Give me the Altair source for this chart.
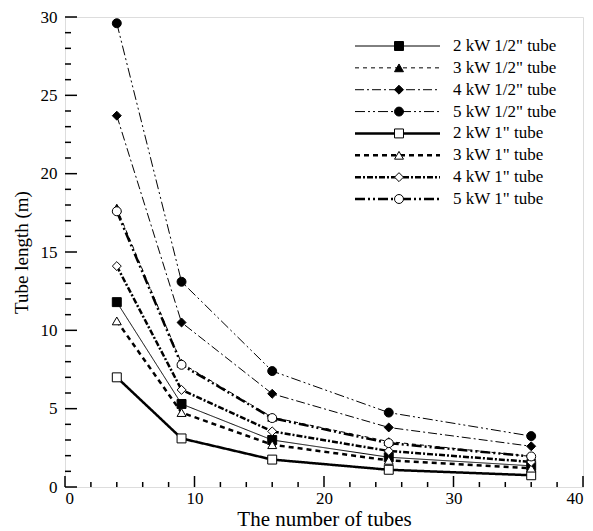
import altair as alt
import pandas as pd

n_tubes = [4, 9, 16, 25, 36]
series = ['2 kW 1/2" tube', '3 kW 1/2" tube', '4 kW 1/2" tube', '5 kW 1/2" tube',
          '2 kW 1" tube', '3 kW 1" tube', '4 kW 1" tube', '5 kW 1" tube']
thin_series = series[:4]
thick_series = series[4:]
kw2_half = [11.8, 5.3, 3.0, 1.9, 1.35]
kw3_half = [17.8, 7.9, 4.45, 2.9, 1.95]
kw4_half = [23.7, 10.5, 5.95, 3.8, 2.6]
kw5_half = [29.6, 13.1, 7.4, 4.75, 3.25]
kw2_one = [7.0, 3.1, 1.75, 1.1, 0.75]
kw3_one = [10.6, 4.75, 2.7, 1.7, 1.2]
kw4_one = [14.1, 6.2, 3.55, 2.3, 1.6]
kw5_one = [17.6, 7.8, 4.4, 2.8, 1.95]
all_vals = [kw2_half, kw3_half, kw4_half, kw5_half, kw2_one, kw3_one, kw4_one, kw5_one]

y_major = [0, 5, 10, 15, 20, 25, 30]
y_minor = [v for v in range(0, 31) if v % 5 != 0]
x_major = [0, 10, 20, 30, 40]
x_minor = [v for v in range(0, 41, 2) if v % 10 != 0]

dashes = [[1, 0], [4, 4], [9, 3, 2, 3], [10, 3, 2, 3, 2, 3],
          [1, 0], [5, 4], [6, 2, 2, 2], [10, 3, 2, 3, 2, 3]]
shapes = ['square', 'triangle-up', 'diamond', 'circle'] * 2
fills = ['black'] * 4 + ['white'] * 4
sizes = [80, 80, 90, 115, 85, 80, 95, 105]

rows = []
for s, vals in zip(series, all_vals):
    for x, y in zip(n_tubes, vals):
        rows.append({'series': s, 'n': x, 'L': y})
df = pd.DataFrame(rows)
leg = pd.DataFrame({'series': series})

FONT = 'Liberation Serif'
W, H = 518, 470

xs = alt.Scale(domain=[0, 40], nice=False, zero=False)
ys = alt.Scale(domain=[0, 30], nice=False, zero=False)

dash_enc = alt.StrokeDash('series:N', scale=alt.Scale(domain=series, range=dashes), legend=None)
shape_enc = alt.Shape('series:N', scale=alt.Scale(domain=series, range=shapes), legend=None)
fill_enc = alt.Fill('series:N', scale=alt.Scale(domain=series, range=fills), legend=None)
size_enc = alt.Size('series:N', scale=alt.Scale(domain=series, range=sizes), legend=None)

x_axis = alt.Axis(title='The number of tubes', values=x_major, ticks=False, domain=False,
                  grid=False, labelPadding=3, labelFontSize=17, titleFontSize=21,
                  titleFontWeight='normal', titlePadding=2, labelFont=FONT, titleFont=FONT,
                  labelColor='black', titleColor='black', format='d')
y_axis = alt.Axis(title='Tube length (m)', values=y_major, ticks=False, domain=False,
                  grid=False, labelPadding=8, labelFontSize=17, titleFontSize=19,
                  titleFontWeight='normal', titlePadding=9, labelFont=FONT, titleFont=FONT,
                  labelColor='black', titleColor='black', format='d')

def line_layer(subset, width, axes):
    return alt.Chart(df).transform_filter(
        alt.FieldOneOfPredicate(field='series', oneOf=subset)
    ).mark_line(color='black', strokeWidth=width).encode(
        x=alt.X('n:Q', scale=xs, axis=x_axis if axes else None),
        y=alt.Y('L:Q', scale=ys, axis=y_axis if axes else None),
        detail='series:N',
        strokeDash=dash_enc,
    )

points = alt.Chart(df).mark_point(filled=True, stroke='black', strokeWidth=1, opacity=1).encode(
    x=alt.X('n:Q', scale=xs, axis=None),
    y=alt.Y('L:Q', scale=ys, axis=None),
    shape=shape_enc,
    fill=fill_enc,
    size=size_enc,
)

def yticks(vals, length):
    return alt.Chart(pd.DataFrame({'v': vals})).mark_rule(color='black', strokeWidth=1.5).encode(
        y=alt.Y('v:Q', scale=ys, axis=None),
        x=alt.value(0), x2=alt.value(length))

def xticks(vals, length):
    return alt.Chart(pd.DataFrame({'v': vals})).mark_rule(color='black', strokeWidth=1.5).encode(
        x=alt.X('v:Q', scale=xs, axis=None),
        y=alt.value(H), y2=alt.value(H - length))

leg_y = alt.Y('series:N', scale=alt.Scale(type='point', domain=series, range=[29, 182], padding=0),
              axis=None)

def leg_line(subset, width):
    return alt.Chart(leg).transform_filter(
        alt.FieldOneOfPredicate(field='series', oneOf=subset)
    ).mark_rule(color='black', strokeWidth=width).encode(
        y=leg_y, x=alt.value(290), x2=alt.value(375), strokeDash=dash_enc)

leg_pts = alt.Chart(leg).mark_point(filled=True, stroke='black', strokeWidth=1, opacity=1).encode(
    y=leg_y, x=alt.value(334), shape=shape_enc, fill=fill_enc, size=size_enc)
leg_txt = alt.Chart(leg).mark_text(align='left', baseline='middle', font=FONT, fontSize=17,
                                   color='black').encode(
    y=leg_y, x=alt.value(388), text='series:N')

chart = alt.layer(
    line_layer(thin_series, 1, True), line_layer(thick_series, 2.5, False), points,
    yticks(y_major, 12), yticks(y_minor, 6),
    xticks(x_major, 11), xticks(x_minor, 5),
    leg_line(thin_series, 1), leg_line(thick_series, 2.5), leg_pts, leg_txt,
).resolve_scale(x='independent', y='independent').properties(
    width=W, height=H,
    autosize=alt.AutoSizeParams(type='none'),
    padding={'left': 57, 'top': 9, 'right': 2, 'bottom': 44},
).configure_view(stroke='black', strokeWidth=2.5).configure(background='white')

chart.save('out.html', embed_options={'renderer': 'svg', 'actions': False})
